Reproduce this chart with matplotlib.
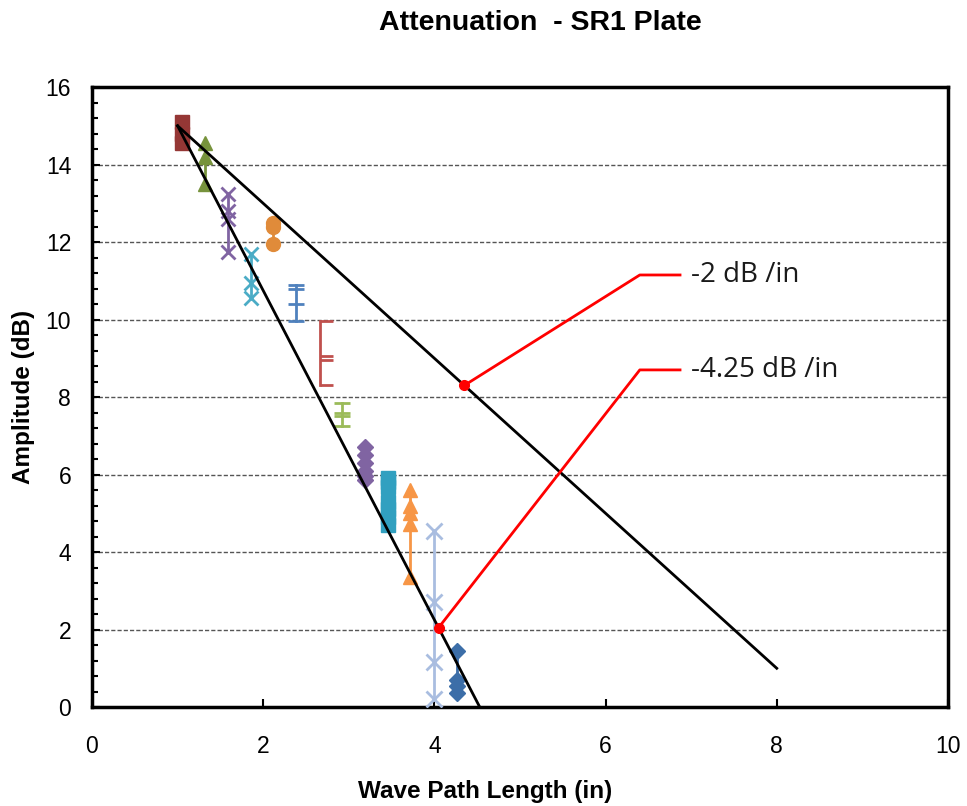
import matplotlib.pyplot as plt
from matplotlib.ticker import MultipleLocator

# measured amplitude groups: (x position, amplitudes, colour, marker)
x_pos = [1.05, 1.32, 1.59, 1.86, 2.11, 2.38, 2.66, 2.92, 3.19, 3.46, 3.71, 4.0, 4.26]
amps = [
    [15.1, 14.8, 14.55],
    [14.55, 14.2, 13.5],
    [13.25, 12.8, 12.6, 11.75],
    [11.7, 10.95, 10.55],
    [12.5, 12.4, 11.95],
    [10.9, 10.8, 10.4, 9.95],
    [9.95, 9.05, 8.95, 8.3],
    [7.85, 7.6, 7.5, 7.25],
    [6.7, 6.5, 6.3, 6.1, 5.95, 5.85],
    [5.9, 5.8, 5.67, 5.28, 5.1, 4.9, 4.7],
    [5.6, 5.2, 5.0, 4.72, 3.35],
    [4.55, 2.7, 1.15, 0.2],
    [1.45, 0.7, 0.55, 0.35],
]
colors = ['#953735', '#77933c', '#8064a2', '#4bacc6', '#e08b3a', '#4f81bd',
          '#c0504d', '#9bbb59', '#8064a2', '#31a0c0', '#f79646', '#a9bde0', '#3c6ea8']
markers = ['s', '^', 'x', 'x', 'o', '_', 1, '_', 'D', 's', '^', 'x', 'D']
msizes = [10, 10, 10, 10, 10, 12, 9, 12, 8, 9.5, 10, 11, 8]

# fitted attenuation lines
line_a_x = [1.0, 8.0]
line_a_y = [15.0, 1.0]
line_b_x = [1.0, 4.53]
line_b_y = [15.0, 0.0]

# callouts: point on line, elbow, label
callout_pts = [(4.35, 8.3), (4.05, 2.05)]
callout_elbow = [(6.4, 11.15), (6.4, 8.7)]
callout_text = ['-2 dB /in', '-4.25 dB /in']

fig = plt.figure(figsize=(9.67, 8.06), dpi=100)
ax = fig.add_axes([0.0951, 0.1228, 0.8852, 0.7692])

for x, ys, c, m, ms in zip(x_pos, amps, colors, markers, msizes):
    ax.plot([x] * len(ys), ys, color=c, lw=2, marker=m, ms=ms,
            mew=2 if m in ('x', '_', 1) else 1, mec=c, mfc=c, zorder=3)

ax.plot(line_a_x, line_a_y, color='black', lw=2, zorder=4)
ax.plot(line_b_x, line_b_y, color='black', lw=2, zorder=4)

for (px, py), (ex, ey), txt in zip(callout_pts, callout_elbow, callout_text):
    ax.plot([px, ex, ex + 0.47], [py, ey, ey], color='red', lw=2, zorder=5)
    ax.plot(px, py, 'o', color='red', ms=7, zorder=6)
    ax.text(ex + 0.6, ey, txt, fontsize=20, family='Open Sans', va='center', color='#1a1a1a')

ax.set_xlim(0, 10)
ax.set_ylim(0, 16)
ax.xaxis.set_major_locator(MultipleLocator(2))
ax.yaxis.set_major_locator(MultipleLocator(2))
ax.yaxis.set_minor_locator(MultipleLocator(0.4))
ax.tick_params(direction='in', length=6, width=1.5, labelsize=16.5)
ax.tick_params(which='minor', direction='in', length=4, width=1.5)
ax.tick_params(axis='x', pad=20)
ax.tick_params(axis='y', pad=15)
for lbl in ax.get_xticklabels() + ax.get_yticklabels():
    lbl.set_family('Liberation Sans')
ax.yaxis.grid(True, linestyle=(0, (3, 1.5)), color='#555555', lw=1)
ax.set_axisbelow(True)
for sp in ax.spines.values():
    sp.set_linewidth(2.5)

ax.set_xlabel('Wave Path Length (in)', fontsize=17.5, fontweight='bold', family='Liberation Sans')
ax.set_ylabel('Amplitude (dB)', fontsize=17.5, fontweight='bold', family='Liberation Sans')
ax.xaxis.set_label_coords(0.459, -0.117)
ax.yaxis.set_label_coords(-0.066, 0.5)
fig.text(0.559, 0.972, 'Attenuation  - SR1 Plate', fontsize=20.5, fontweight='bold',
         family='Liberation Sans', ha='center', va='center')

fig.savefig('out.png', dpi=100)
